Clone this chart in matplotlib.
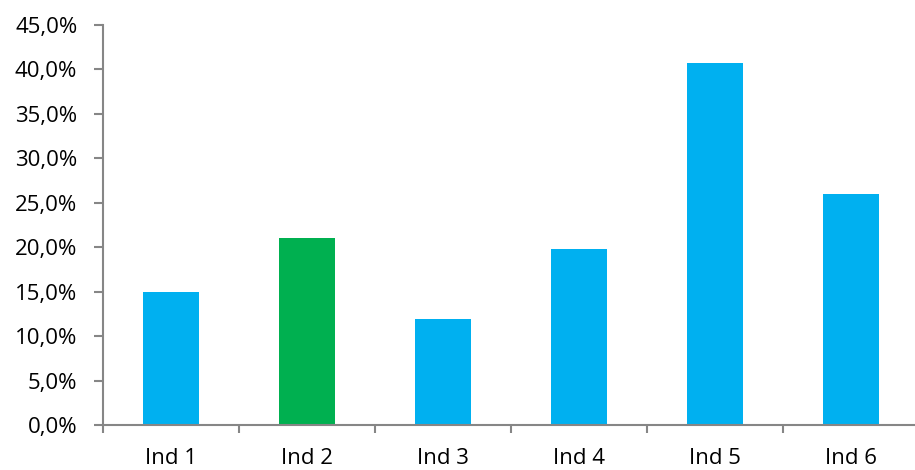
import matplotlib.pyplot as plt
from matplotlib.ticker import FuncFormatter, MultipleLocator

# share per individual, in percent
categories = ['Ind 1', 'Ind 2', 'Ind 3', 'Ind 4', 'Ind 5', 'Ind 6']
values = [15.0, 21.0, 12.0, 19.85, 40.75, 26.0]
colors = ['#00B0F0', '#00B050', '#00B0F0', '#00B0F0', '#00B0F0', '#00B0F0']

plt.rcParams['font.family'] = ['Open Sans', 'DejaVu Sans']

fig = plt.figure(figsize=(9.15, 4.7), dpi=100)
ax = fig.add_axes([103 / 915, 44.7 / 470, 816 / 915, 400.3 / 470])

x = list(range(len(categories)))
ax.bar(x, values, width=0.41, color=colors)

ax.set_xlim(-0.5, len(categories) - 0.5)
ax.set_ylim(0, 45)
ax.yaxis.set_major_locator(MultipleLocator(5))
ax.yaxis.set_major_formatter(FuncFormatter(lambda v, p: f'{v:.1f}%'.replace('.', ',')))

ax.set_xticks(x)
ax.set_xticklabels(categories)
ax.set_xticks([i + 0.5 for i in range(-1, len(categories))], minor=True)

axis_gray = '#868686'
for side in ['top', 'right']:
    ax.spines[side].set_visible(False)
for side in ['left', 'bottom']:
    ax.spines[side].set_color(axis_gray)
    ax.spines[side].set_linewidth(1.5)

ax.tick_params(axis='x', which='major', length=0, pad=16, labelsize=16)
ax.tick_params(axis='x', which='minor', length=6, width=1.5, color=axis_gray, direction='out')
ax.tick_params(axis='y', length=6.5, width=1.5, color=axis_gray, labelsize=16, pad=12)

fig.savefig('out.png', dpi=100)
